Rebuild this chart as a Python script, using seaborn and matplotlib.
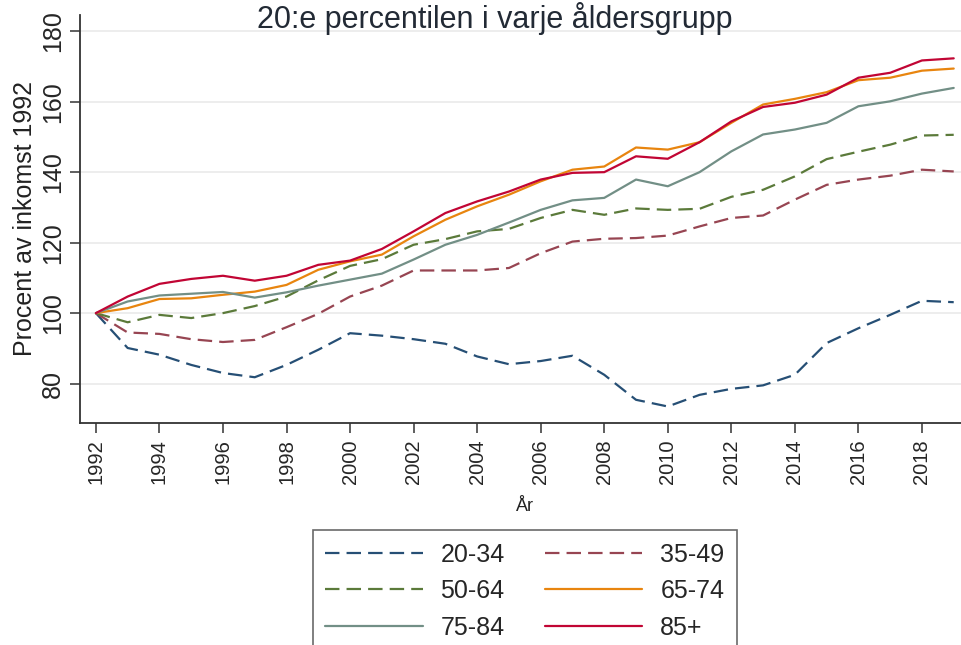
import numpy as np
import pandas as pd
import matplotlib
matplotlib.use("Agg")
import matplotlib.pyplot as plt
import seaborn as sns

# data
years = list(range(1992, 2020))
groups = ['20-34', '35-49', '50-64', '65-74', '75-84', '85+']

g_20_34 = [100, 90.1, 88.2, 85.3, 83.0, 81.8, 85.3, 89.6, 94.3, 93.6, 92.6, 91.3, 87.7,
           85.5, 86.4, 87.9, 82.5, 75.4, 73.5, 76.8, 78.5, 79.5, 82.5, 91.5, 95.7, 99.5,
           103.5, 103.1]
g_35_49 = [100, 94.5, 94.1, 92.6, 91.8, 92.4, 96.0, 99.8, 104.7, 107.8, 112.1, 112.1, 112.1,
           112.8, 117.0, 120.3, 121.1, 121.3, 122.0, 124.6, 127.0, 127.7, 132.2, 136.4, 137.9,
           139.0, 140.7, 140.2]
g_50_64 = [100, 97.4, 99.5, 98.6, 100.0, 102.0, 104.7, 109.3, 113.4, 115.3, 119.4, 121.0,
           123.2, 123.9, 127.0, 129.3, 127.9, 129.7, 129.3, 129.6, 133.0, 135.0, 138.8, 143.7,
           145.8, 147.8, 150.4, 150.6]
g_65_74 = [100, 101.4, 104.0, 104.2, 105.2, 106.1, 108.0, 112.3, 114.7, 116.6, 121.8, 126.5,
           130.3, 133.6, 137.4, 140.7, 141.6, 147.0, 146.4, 148.5, 154.0, 159.2, 160.8, 162.7,
           166.1, 166.8, 168.8, 169.4]
g_75_84 = [100, 103.3, 105.0, 105.5, 106.0, 104.4, 105.9, 107.8, 109.5, 111.2, 115.2, 119.4,
           122.2, 125.7, 129.3, 132.0, 132.7, 137.9, 136.0, 140.0, 145.9, 150.7, 152.1, 154.0,
           158.7, 160.1, 162.3, 163.9]
g_85 = [100, 104.7, 108.3, 109.7, 110.6, 109.2, 110.6, 113.7, 114.9, 118.2, 123.2, 128.4,
        131.7, 134.5, 137.9, 139.8, 140.0, 144.5, 143.8, 148.5, 154.4, 158.5, 159.7, 162.0,
        166.8, 168.2, 171.7, 172.3]

series = [g_20_34, g_35_49, g_50_64, g_65_74, g_75_84, g_85]
df = pd.DataFrame({
    'year': years * len(groups),
    'value': sum(series, []),
    'group': np.repeat(groups, len(years)),
})

# Stata s2color-like palette
colors = ['#264f75', '#974552', '#5b7a3a', '#e8850f', '#728f86', '#c10534']
palette = dict(zip(groups, colors))
dash = (6.5, 3.2)
dashes = {'20-34': dash, '35-49': dash, '50-64': dash,
          '65-74': '', '75-84': '', '85+': ''}

sns.set_style('white')
plt.rcParams['font.family'] = ['Liberation Sans', 'DejaVu Sans']

fig = plt.figure(figsize=(9.61, 6.45), dpi=100)
ax = fig.add_axes([80 / 961, 1 - 422.7 / 645, 889.6 / 961, (422.7 - 15) / 645])

sns.lineplot(data=df, x='year', y='value', hue='group', style='group',
             palette=palette, dashes=dashes, linewidth=1.6, ax=ax, legend=True)

ax.set_xlim(1991.5, 2019.5)
ax.set_ylim(68.9, 184.6)
ax.set_xticks(list(range(1992, 2020, 2)))
ax.set_yticks([80, 100, 120, 140, 160, 180])
ax.tick_params(axis='x', labelrotation=90, labelsize=14.5, length=7, width=1.1,
               color='#333333', direction='out', bottom=True, pad=5)
ax.tick_params(axis='y', labelrotation=90, labelsize=18, length=7, width=1.1,
               color='#333333', direction='out', left=True, pad=4)
for lab in ax.get_yticklabels():
    lab.set_va('center')
ax.yaxis.grid(True, color='#ececec', linewidth=1.3)
ax.xaxis.grid(False)
for s in ['top', 'right']:
    ax.spines[s].set_visible(False)
for s in ['left', 'bottom']:
    ax.spines[s].set_color('#333333')
    ax.spines[s].set_linewidth(1.3)

ax.set_xlabel('År', fontsize=13, color='#222222', labelpad=10)
ax.set_ylabel('Procent av inkomst 1992', fontsize=18, color='#222222', labelpad=3)

fig.text(0.515, 1 - 28 / 645, '20:e percentilen i varje åldersgrupp',
         ha='center', va='baseline', fontsize=22, color='#222a35')

handles, labels = ax.get_legend_handles_labels()
ax.get_legend().remove()
order = [0, 2, 4, 1, 3, 5]
leg = fig.legend([handles[i] for i in order], [labels[i] for i in order],
                 loc='upper center', bbox_to_anchor=(0.546, 0.178),
                 ncol=2, fontsize=18, frameon=True, fancybox=False,
                 edgecolor='#444444', handlelength=3.9, handletextpad=0.72,
                 columnspacing=1.6, labelspacing=0.5, borderpad=0.5,
                 borderaxespad=0)
leg.get_frame().set_linewidth(1.2)
for line in leg.get_lines():
    line.set_linewidth(1.6)

fig.savefig('out.png', dpi=100)
